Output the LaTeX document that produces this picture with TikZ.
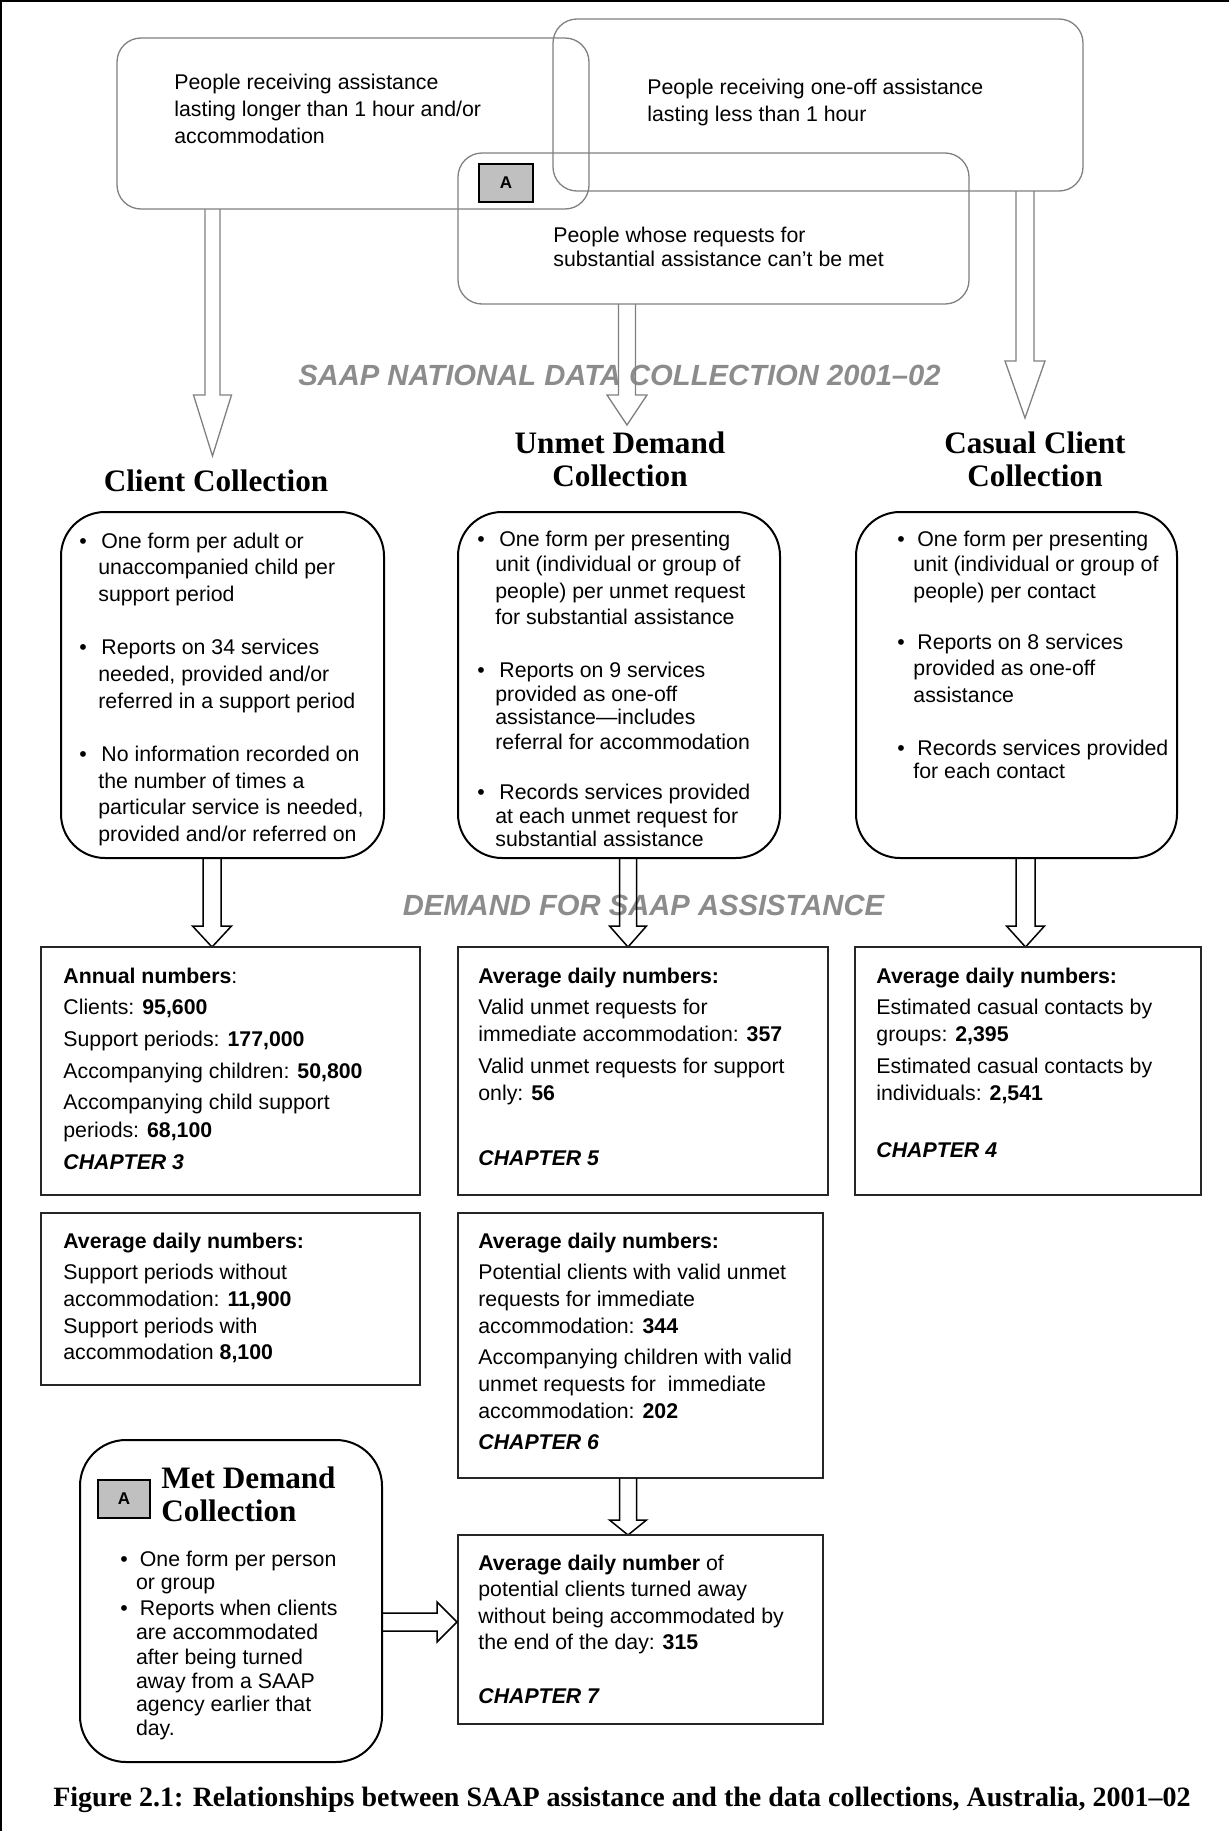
\documentclass[tikz,border=0pt]{standalone}
\usepackage{fontspec}
\setmainfont{Liberation Sans}
\newfontfamily\serifhd{Liberation Serif}
\usetikzlibrary{fit}
\definecolor{boxgray}{RGB}{128,128,128}
\definecolor{titlegray}{RGB}{140,140,140}
\definecolor{afill}{RGB}{192,192,192}
\newcommand\blkdown[7]{\draw[#1] (#2-#6,#3) -- (#2-#6,#4) -- (#2-#7,#4) -- (#2,#5) -- (#2+#7,#4) -- (#2+#6,#4) -- (#2+#6,#3);}
\begin{document}
\begin{tikzpicture}[x=0.5pt,y=-0.5pt,
  topbox/.style={draw=boxgray, line width=0.65pt, rounded corners=12pt, inner sep=0pt},
  midbox/.style={draw=black, line width=1pt, rounded corners=22pt, inner sep=0pt},
  databox/.style={draw=black!85, line width=1pt, inner sep=0pt},
  abox/.style={draw=black, fill=afill, line width=1pt, inner sep=0pt},
  alabel/.style={anchor=center, inner sep=0pt, font=\bfseries\fontsize{8.5}{10}\selectfont},
  txt/.style={anchor=base west, inner sep=0pt, font=\fontsize{10.65}{13}\selectfont},
  bul/.style={anchor=base, inner sep=0pt, font=\fontsize{10.65}{13}\selectfont},
  hd/.style={anchor=base, inner sep=0pt, font=\serifhd\bfseries\fontsize{15.6}{18}\selectfont},
  hdl/.style={anchor=base west, inner sep=0pt, font=\serifhd\bfseries\fontsize{15.6}{18}\selectfont},
  ttl/.style={anchor=base, inner sep=0pt, text=titlegray, font=\bfseries\itshape\fontsize{14.6}{17}\selectfont},
  grayarrow/.style={draw=boxgray, line width=0.65pt},
  blackarrow/.style={draw=black, line width=0.75pt},
]
\useasboundingbox (0,0) rectangle (1229,1831);
% outer frame (top and left)
\draw[line width=1.25pt] (1.2,1831) -- (1.2,1.2) -- (1229,1.2);

% ---------- top boxes ----------
\node[topbox, fit={(117,38) (589,209)}] (b1) {};
\node[topbox, fit={(553,19) (1083,191)}] (b2) {};
\node[topbox, fit={(458,153) (969,304)}] (b3) {};
\node[abox, fit={(479,164) (533,202)}] (ba) {};
\node[alabel] (bal) at (ba.center) {A};

\node[txt] (b1a) at (174,89) {People receiving assistance};
\node[txt] (b1b) at (174,116) {lasting longer than 1 hour and/or};
\node[txt] (b1c) at (174,143) {accommodation};
\node[txt] (b2a) at (647,94) {People receiving one-off assistance};
\node[txt] (b2b) at (647,121) {lasting less than 1 hour};
\node[txt] (b3a) at (553,242) {People whose requests for};
\node[txt] (b3b) at (553,266) {substantial assistance can’t be met};

\node[ttl] (tsaap) at (619.5,385) {SAAP NATIONAL DATA COLLECTION 2001–02};

\blkdown{grayarrow}{212.5}{209}{395}{456}{7.5}{19}
\blkdown{grayarrow}{627}{304}{395}{425}{8.5}{20}
\blkdown{grayarrow}{1025}{191}{361}{418}{9}{20}

% ---------- headings ----------
\node[hd] (hcc) at (216,491) {Client Collection};
\node[hd] (hud1) at (620,453) {Unmet Demand};
\node[hd] (hud2) at (620,486) {Collection};
\node[hd] (hca1) at (1035,453) {Casual Client};
\node[hd] (hca2) at (1035,486) {Collection};

% ---------- middle rounded boxes ----------
\node[midbox, fit={(61,512) (384,858)}] (cc) {};
\node[midbox, fit={(458,512) (780,858)}] (ud) {};
\node[midbox, fit={(856,512) (1177,858)}] (ca) {};

% client collection text
\node[bul] (ccb1) at (83,548) {\textbullet};
\node[txt] (cc1) at (101,548) {One form per adult or};
\node[txt] (cc2) at (98,574) {unaccompanied child per};
\node[txt] (cc3) at (98,601) {support period};
\node[bul] (ccb2) at (83,654) {\textbullet};
\node[txt] (cc4) at (101,654) {Reports on 34 services};
\node[txt] (cc5) at (98,681) {needed, provided and/or};
\node[txt] (cc6) at (98,708) {referred in a support period};
\node[bul] (ccb3) at (83,761) {\textbullet};
\node[txt] (cc7) at (101,761) {No information recorded on};
\node[txt] (cc8) at (98,788) {the number of times a};
\node[txt] (cc9) at (98,814) {particular service is needed,};
\node[txt] (cc10) at (98,841) {provided and/or referred on};

% unmet demand text
\node[bul] (udb1) at (481,546) {\textbullet};
\node[txt] (ud1) at (499,546) {One form per presenting};
\node[txt] (ud2) at (495,571) {unit (individual or group of};
\node[txt] (ud3) at (495,598) {people) per unmet request};
\node[txt] (ud4) at (495,624) {for substantial assistance};
\node[bul] (udb2) at (481,677) {\textbullet};
\node[txt] (ud5) at (499,677) {Reports on 9 services};
\node[txt] (ud6) at (495,701) {provided as one-off};
\node[txt] (ud7) at (495,724) {assistance—includes};
\node[txt] (ud8) at (495,749) {referral for accommodation};
\node[bul] (udb3) at (481,799) {\textbullet};
\node[txt] (ud9) at (499,799) {Records services provided};
\node[txt] (ud10) at (495,823) {at each unmet request for};
\node[txt] (ud11) at (495,846) {substantial assistance};

% casual client text
\node[bul] (cab1) at (901,546) {\textbullet};
\node[txt] (ca1) at (917,546) {One form per presenting};
\node[txt] (ca2) at (913,571) {unit (individual or group of};
\node[txt] (ca3) at (913,598) {people) per contact};
\node[bul] (cab2) at (901,649) {\textbullet};
\node[txt] (ca4) at (917,649) {Reports on 8 services};
\node[txt] (ca5) at (913,675) {provided as one-off};
\node[txt] (ca6) at (913,702) {assistance};
\node[bul] (cab3) at (901,755) {\textbullet};
\node[txt] (ca7) at (917,755) {Records services provided};
\node[txt] (ca8) at (913,778) {for each contact};

\node[ttl] (tdem) at (643.5,915.5) {DEMAND FOR SAAP ASSISTANCE};

\blkdown{blackarrow}{212}{858}{926}{947}{9}{19.5}
\blkdown{blackarrow}{628}{858}{926}{947}{8.5}{18.5}
\blkdown{blackarrow}{1025.5}{858}{926}{947}{9.5}{19}

% ---------- data boxes row 1 ----------
\node[databox, fit={(41,947) (420,1195)}] (a1) {};
\node[databox, fit={(458,947) (828,1195)}] (u1) {};
\node[databox, fit={(855,947) (1201,1195)}] (c1) {};

\node[txt] (a1a) at (63,983) {\textbf{Annual numbers}:};
\node[txt] (a1b) at (63,1014) {Clients: \textbf{95,600}};
\node[txt] (a1c) at (63,1046) {Support periods: \textbf{177,000}};
\node[txt] (a1d) at (63,1078) {Accompanying children: \textbf{50,800}};
\node[txt] (a1e) at (63,1109) {Accompanying child support};
\node[txt] (a1f) at (63,1137) {periods: \textbf{68,100}};
\node[txt] (a1g) at (63,1169) {\textbf{\itshape CHAPTER 3}};

\node[txt] (u1a) at (478,983) {\textbf{Average daily numbers:}};
\node[txt] (u1b) at (478,1014) {Valid unmet requests for};
\node[txt] (u1c) at (478,1041) {immediate accommodation: \textbf{357}};
\node[txt] (u1d) at (478,1073) {Valid unmet requests for support};
\node[txt] (u1e) at (478,1100) {only: \textbf{56}};
\node[txt] (u1f) at (478,1165) {\textbf{\itshape CHAPTER 5}};

\node[txt] (c1a) at (876,983) {\textbf{Average daily numbers:}};
\node[txt] (c1b) at (876,1014) {Estimated casual contacts by};
\node[txt] (c1c) at (876,1041) {groups: \textbf{2,395}};
\node[txt] (c1d) at (876,1073) {Estimated casual contacts by};
\node[txt] (c1e) at (876,1100) {individuals: \textbf{2,541}};
\node[txt] (c1f) at (876,1157) {\textbf{\itshape CHAPTER 4}};

% ---------- data boxes row 2 ----------
\node[databox, fit={(41,1213) (420,1385)}] (a2) {};
\node[databox, fit={(458,1213) (823,1478)}] (u2) {};

\node[txt] (a2a) at (63,1248) {\textbf{Average daily numbers:}};
\node[txt] (a2b) at (63,1279) {Support periods without};
\node[txt] (a2c) at (63,1306) {accommodation: \textbf{11,900}};
\node[txt] (a2d) at (63,1333) {Support periods with};
\node[txt] (a2e) at (63,1359) {accommodation \textbf{8,100}};

\node[txt] (u2a) at (478,1248) {\textbf{Average daily numbers:}};
\node[txt] (u2b) at (478,1279) {Potential clients with valid unmet};
\node[txt] (u2c) at (478,1306) {requests for immediate};
\node[txt] (u2d) at (478,1333) {accommodation: \textbf{344}};
\node[txt] (u2e) at (478,1364) {Accompanying children with valid};
\node[txt] (u2f) at (478,1391) {unmet requests for \ immediate};
\node[txt] (u2g) at (478,1418) {accommodation: \textbf{202}};
\node[txt] (u2h) at (478,1449) {\textbf{\itshape CHAPTER 6}};

\blkdown{blackarrow}{628}{1478}{1520}{1535}{8.5}{18.5}

% ---------- final box ----------
\node[databox, fit={(458,1535) (823,1724)}] (u3) {};
\node[txt] (u3a) at (478,1570) {\textbf{Average daily number} of};
\node[txt] (u3b) at (478,1596) {potential clients turned away};
\node[txt] (u3c) at (478,1623) {without being accommodated by};
\node[txt] (u3d) at (478,1649) {the end of the day: \textbf{315}};
\node[txt] (u3e) at (478,1703) {\textbf{\itshape CHAPTER 7}};

% ---------- met demand ----------
\node[midbox, rounded corners=23pt, fit={(80,1440) (382,1762)}] (md) {};
\node[abox, fit={(98,1480) (150,1518)}] (mda) {};
\node[alabel] (mdal) at (mda.center) {A};
\node[hdl] (mdh1) at (161,1488) {Met Demand};
\node[hdl] (mdh2) at (161,1521) {Collection};
\node[bul] (mdb1) at (124,1566) {\textbullet};
\node[txt] (md1) at (139.5,1566) {One form per person};
\node[txt] (md2) at (135.6,1589) {or group};
\node[bul] (mdb2) at (124,1615) {\textbullet};
\node[txt] (md3) at (139.5,1615) {Reports when clients};
\node[txt] (md4) at (135.6,1639) {are accommodated};
\node[txt] (md5) at (135.6,1664) {after being turned};
\node[txt] (md6) at (135.6,1688) {away from a SAAP};
\node[txt] (md7) at (135.6,1711) {agency earlier that};
\node[txt] (md8) at (135.6,1735) {day.};

\draw[blackarrow] (md.east |- 0,1613) -- (437,1613) -- (437,1602) -- (u3.west |- 0,1622) -- (437,1642) -- (437,1631) -- (md.east |- 0,1631);

% ---------- caption ----------
\node[anchor=base, inner sep=0pt, font=\serifhd\bfseries\fontsize{14}{16}\selectfont] (cap) at (622,1806) {Figure 2.1: Relationships between SAAP assistance and the data collections, Australia, 2001–02};
\end{tikzpicture}
\end{document}
